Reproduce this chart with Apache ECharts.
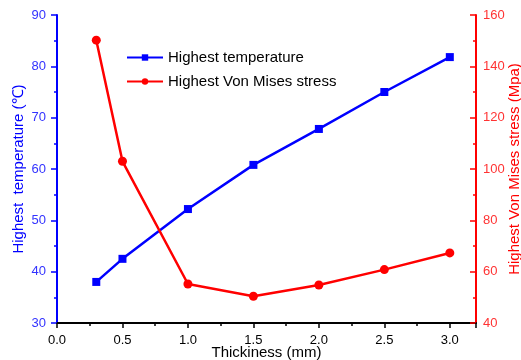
<!DOCTYPE html>
<html><head><meta charset="utf-8">
<script src="https://cdn.jsdelivr.net/npm/echarts@6/dist/echarts.min.js"></script>
<style>html,body{margin:0;padding:0;background:#fff}#c{width:521px;height:360px}</style>
</head><body><div id="c"></div>
<script>
const thickness = [0.3, 0.5, 1.0, 1.5, 2.0, 2.5, 3.0];
const temperature = [38.0, 42.5, 52.2, 60.8, 67.8, 75.0, 81.8];
const stress = [150.2, 103.0, 55.2, 50.4, 54.8, 60.8, 67.3];
const font = 'Liberation Sans, Arial, sans-serif';
const chart = echarts.init(document.getElementById('c'));
chart.setOption({
  animation: false,
  grid: {left: 57, right: 45, top: 15, bottom: 37, containLabel: false, outerBoundsMode: 'none'},
  legend: {
    left: 121, top: 45, orient: 'vertical', itemGap: 9, itemWidth: 36, itemHeight: 8,
    textStyle: {fontFamily: font, fontSize: 15, color: '#000'},
    data: ['Highest temperature', 'Highest Von Mises stress']
  },
  xAxis: {
    type: 'value', min: 0, max: 3.2, interval: 0.5,
    name: 'Thickiness (mm)', nameLocation: 'middle', nameGap: 22, nameMoveOverlap: false,
    nameTextStyle: {fontFamily: font, fontSize: 15, color: '#000'},
    axisLine: {lineStyle: {color: '#000', width: 2}},
    axisTick: {show: true, length: 5, lineStyle: {color: '#000', width: 1.5}},
    minorTick: {show: true, splitNumber: 2, length: 3, lineStyle: {color: '#000', width: 1.5}},
    splitLine: {show: false},
    axisLabel: {fontFamily: font, fontSize: 13, color: '#000', margin: 11,
      formatter: v => (v > 3.1 ? '' : v.toFixed(1))}
  },
  yAxis: [{
    type: 'value', min: 30, max: 90, interval: 10, position: 'left',
    name: 'Highest  temperature (℃)', nameLocation: 'middle', nameGap: 31, nameMoveOverlap: false,
    nameTextStyle: {fontFamily: font, fontSize: 15, color: '#0000ff'},
    axisLine: {show: true, lineStyle: {color: '#0000ff', width: 2}},
    axisTick: {show: true, length: 6, lineStyle: {color: '#0000ff', width: 1.5}},
    minorTick: {show: true, splitNumber: 2, length: 3, lineStyle: {color: '#0000ff', width: 1.5}},
    splitLine: {show: false},
    axisLabel: {fontFamily: font, fontSize: 13, color: '#3333ff', margin: 11}
  }, {
    type: 'value', min: 40, max: 160, interval: 20, position: 'right',
    name: 'Highest Von Mises stress (Mpa)', nameLocation: 'middle', nameGap: 31, nameMoveOverlap: false,
    nameTextStyle: {fontFamily: font, fontSize: 15, color: '#ff0000'},
    axisLine: {show: true, lineStyle: {color: '#ff0000', width: 2}},
    axisTick: {show: true, inside: true, length: 6, lineStyle: {color: '#ff0000', width: 1.5}},
    minorTick: {show: true, splitNumber: 2, length: 3, lineStyle: {color: '#ff0000', width: 1.5}},
    splitLine: {show: false},
    axisLabel: {fontFamily: font, fontSize: 13, color: '#ff3333', margin: 7}
  }],
  series: [{
    name: 'Highest temperature', type: 'line', yAxisIndex: 0,
    data: thickness.map((t, i) => [t, temperature[i]]),
    symbol: 'rect', symbolSize: 8,
    lineStyle: {color: '#0000ff', width: 2.5}, itemStyle: {color: '#0000ff'}
  }, {
    name: 'Highest Von Mises stress', type: 'line', yAxisIndex: 1,
    data: thickness.map((t, i) => [t, stress[i]]),
    symbol: 'circle', symbolSize: 9,
    lineStyle: {color: '#ff0000', width: 2.5}, itemStyle: {color: '#ff0000'}
  }]
});
</script></body></html>
